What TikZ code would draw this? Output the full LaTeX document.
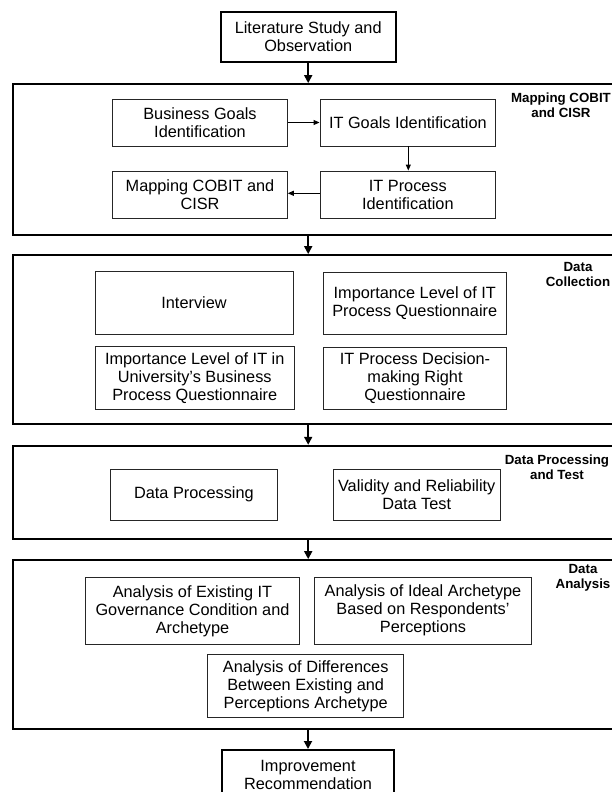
\documentclass[tikz,border=0pt]{standalone}
\usepackage{fontspec}
\setmainfont{Liberation Sans}
\usetikzlibrary{arrows.meta}

\tikzset{
  box/.style={draw=black!85, line width=0.9pt, inner sep=0pt, align=center,
    font=\fontsize{16.3}{18}\selectfont},
  endbox/.style={box, draw=black, line width=2pt, minimum width=175pt, minimum height=50pt},
  group/.style={draw, line width=1.8pt, inner sep=0pt, minimum width=606.7pt},
  grouplabel/.style={align=center, font=\bfseries\fontsize{13.3}{14.5}\selectfont},
  flow/.style={-{Triangle[length=8pt,width=8pt]}, line width=1.8pt},
  link/.style={-{Triangle[length=6pt,width=5pt]}, line width=0.9pt},
}

\begin{document}
\begin{tikzpicture}[x=1pt, y=-1pt]
    \useasboundingbox (0,0) rectangle (611,792);

    % start and end
    \node[endbox] (lit) at (308.2,36.7) {Literature Study and\\Observation};
    \node[endbox, minimum width=172.6pt] (imp) at (308,775) {Improvement\\Recommendation};

    % the four stages
    \node[group, minimum height=151pt] (g1) at (316.65,159.5) {};
    \node[group, minimum height=169.3pt] (g2) at (316.65,339.65) {};
    \node[group, minimum height=93.3pt] (g3) at (316.65,492.35) {};
    \node[group, minimum height=169pt] (g4) at (316.65,644.5) {};

    \node[grouplabel] (lbl1) at (561,105) {Mapping COBIT\\and CISR};
    \node[grouplabel] (lbl2) at (578,274.5) {Data\\Collection};
    \node[grouplabel] (lbl3) at (557,467) {Data Processing\\and Test};
    \node[grouplabel] (lbl4) at (583,578) {Data\\Analysis};

    % Mapping COBIT and CISR
    \node[box, minimum width=174.6pt, minimum height=47pt] (bg) at (200,122.5) {Business Goals\\Identification};
    \node[box, minimum width=175.7pt, minimum height=47pt] (itg) at (407.85,122.5) {IT Goals Identification};
    \node[box, minimum width=175.7pt, minimum height=47pt] (itp) at (407.85,194.5) {IT Process\\Identification};
    \node[box, minimum width=174.6pt, minimum height=47pt] (map) at (200,194.5) {Mapping COBIT and\\CISR};

    % Data Collection
    \node[box, minimum width=198pt, minimum height=62.6pt] (int) at (194,303) {Interview};
    \node[box, minimum width=182.5pt, minimum height=62pt] (ipq) at (414.75,303.3) {Importance Level of IT\\Process Questionnaire};
    \node[box, minimum width=199.5pt, minimum height=62.3pt] (iuq) at (194.75,377.85) {Importance Level of IT in\\University’s Business\\Process Questionnaire};
    \node[box, minimum width=183pt, minimum height=62.4pt] (dmq) at (415,378.5) {IT Process Decision-\\making Right\\Questionnaire};

    % Data Processing and Test
    \node[box, minimum width=167.2pt, minimum height=50.7pt] (dp) at (193.9,494.65) {Data Processing};
    \node[box, minimum width=167.4pt, minimum height=50.7pt] (vd) at (416.7,494.65) {Validity and Reliability\\Data Test};

    % Data Analysis
    \node[box, minimum width=213.6pt, minimum height=67pt] (ae) at (192.5,610.8) {Analysis of Existing IT\\Governance Condition and\\Archetype};
    \node[box, minimum width=217.4pt, minimum height=66.7pt] (ai) at (423,610.65) {Analysis of Ideal Archetype\\Based on Respondents’\\Perceptions};
    \node[box, minimum width=196pt, minimum height=63.7pt] (ad) at (305.7,685.85) {Analysis of Differences\\Between Existing and\\Perceptions Archetype};

    % arrows
    \draw[flow] (lit) -- (lit |- g1.north);
    \draw[flow] (g1.south -| lit) -- (g2.north -| lit);
    \draw[flow] (g2.south -| lit) -- (g3.north -| lit);
    \draw[flow] (g3.south -| lit) -- (g4.north -| lit);
    \draw[flow] (g4.south -| imp) -- (imp);

    \draw[link] (bg) -- (itg);
    \draw[link] (itg.south -| 408.3,0) -- (itp.north -| 408.3,0);
    \draw[link] (itp.west |- 0,193.3) -- (map.east |- 0,193.3);
\end{tikzpicture}
\end{document}
